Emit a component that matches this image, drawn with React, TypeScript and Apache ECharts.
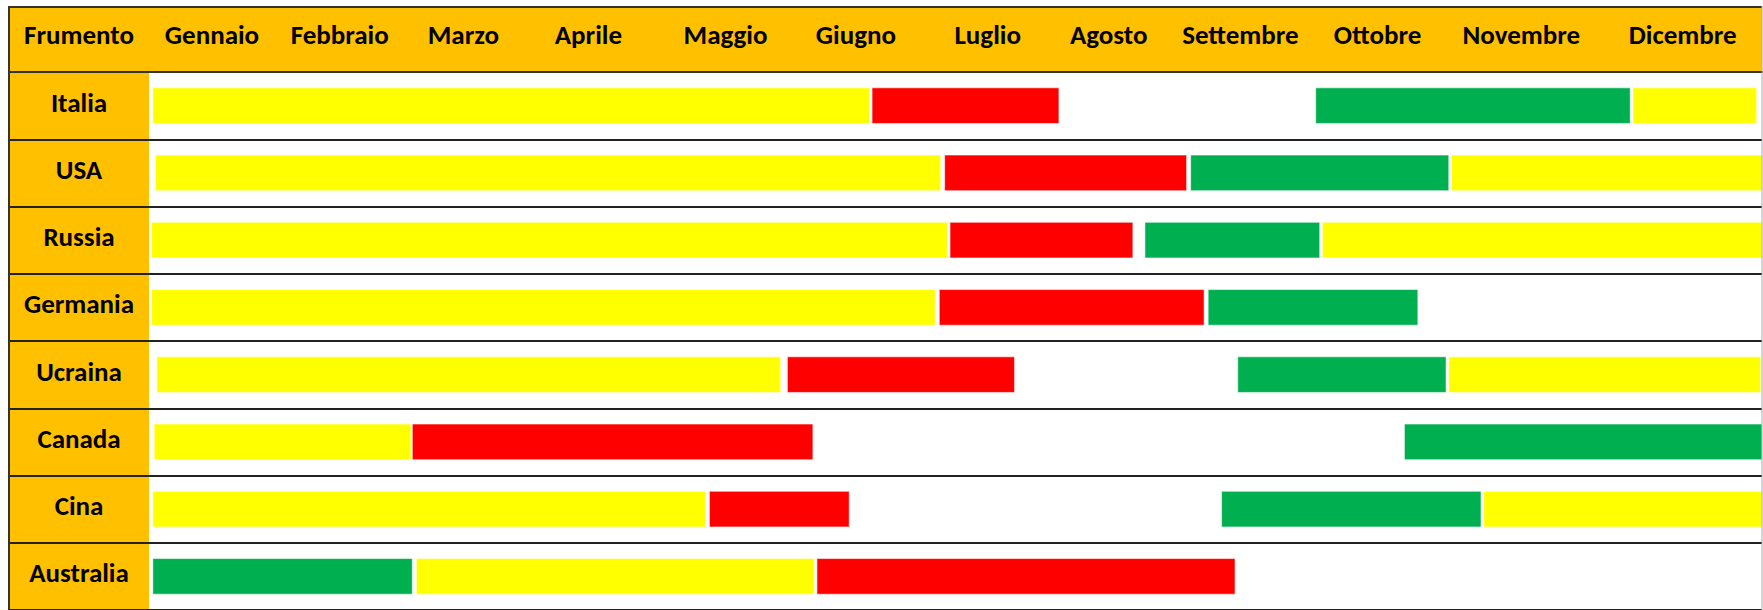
import React, { useEffect, useRef } from "react";
import * as echarts from "echarts";

// Rows (countries) and header labels
const countries = ["Italia", "USA", "Russia", "Germania", "Ucraina", "Canada", "Cina", "Australia"];
const cornerLabel = "Frumento";
const months = [
  "Gennaio", "Febbraio", "Marzo", "Aprile", "Maggio", "Giugno",
  "Luglio", "Agosto", "Settembre", "Ottobre", "Novembre", "Dicembre",
];
// where each month header sits, in month units from the start of January
const monthLabelPos = [0.47, 1.42, 2.34, 3.27, 4.29, 5.26, 6.24, 7.14, 8.12, 9.14, 10.21, 11.41];

// Phases: [country, start, end] in month units (0 = 1 January, 12 = 31 December)
const crescita: [string, number, number][] = [
  ["Italia", 0.03, 5.36], ["Italia", 11.04, 11.96],
  ["USA", 0.05, 5.89], ["USA", 9.69, 12],
  ["Russia", 0.02, 5.94], ["Russia", 8.73, 12],
  ["Germania", 0.02, 5.85],
  ["Ucraina", 0.06, 4.7], ["Ucraina", 9.67, 11.99],
  ["Canada", 0.04, 1.95],
  ["Cina", 0.03, 4.14], ["Cina", 9.93, 12],
  ["Australia", 1.99, 4.95],
];
const raccolto: [string, number, number][] = [
  ["Italia", 5.38, 6.77],
  ["USA", 5.92, 7.72],
  ["Russia", 5.96, 7.32],
  ["Germania", 5.88, 7.85],
  ["Ucraina", 4.75, 6.44],
  ["Canada", 1.96, 4.94],
  ["Cina", 4.17, 5.21],
  ["Australia", 4.97, 8.08],
];
const semina: [string, number, number][] = [
  ["Italia", 8.68, 11.02],
  ["USA", 7.75, 9.67],
  ["Russia", 7.41, 8.71],
  ["Germania", 7.88, 9.44],
  ["Ucraina", 8.1, 9.65],
  ["Canada", 9.34, 12],
  ["Cina", 7.98, 9.91],
  ["Australia", 0.03, 1.96],
];

const ORANGE = "#FFC000";
const FONT = "Carlito, 'Liberation Sans Narrow', 'DejaVu Sans Condensed', 'Open Sans', sans-serif";
const LEFT_COL_UNITS = 1.04;

function renderBar(params: any, api: any) {
  const row = api.value(0);
  const s = api.coord([api.value(1), row]);
  const e = api.coord([api.value(2), row]);
  const h = api.size([0, 1])[1] * 0.53;
  return {
    type: "rect",
    shape: { x: s[0], y: s[1] - h / 2, width: e[0] - s[0], height: h },
    style: api.style(),
  };
}

function phaseSeries(name: string, data: any[], color: string) {
  return {
    type: "custom",
    name,
    data,
    encode: { x: [1, 2], y: 0 },
    renderItem: renderBar,
    itemStyle: { color, borderColor: "rgba(255,255,255,0.55)", borderWidth: 1 },
  };
}

export default function App() {
  const ref = useRef<HTMLDivElement>(null);
  useEffect(() => {
    if (!ref.current) return;
    const chart = echarts.init(ref.current, null, { renderer: "svg" });
    chart.setOption({
      animation: false,
      backgroundColor: "#ffffff",
      grid: { left: 9, top: 72, width: 1753, height: 540 },
      xAxis: {
        type: "value",
        position: "top",
        min: -LEFT_COL_UNITS,
        max: 12,
        splitLine: { show: false },
        axisTick: { show: false },
        axisLine: { show: true, lineStyle: { color: "#333", width: 2 } },
        axisLabel: {
          customValues: monthLabelPos,
          formatter: (v: number) => {
            let best = 0;
            monthLabelPos.forEach((p, i) => {
              if (Math.abs(p - v) < Math.abs(monthLabelPos[best] - v)) best = i;
            });
            return months[best];
          },
          verticalAlign: "middle",
          margin: 38,
          color: "#000",
          fontWeight: "bold",
          fontSize: 27,
          fontFamily: FONT,
        },
      },
      yAxis: {
        type: "category",
        data: countries,
        inverse: true,
        axisLine: { show: false },
        axisTick: { show: false },
        splitLine: { show: true, interval: 0, lineStyle: { color: "#222", width: 2 } },
        axisLabel: {
          inside: true,
          margin: 70,
          align: "center",
          verticalAlign: "middle",
          formatter: (v: string) => `{c|${v}}`,
          rich: {
            c: {
              padding: [0, 0, 7, 0],
              color: "#000",
              fontWeight: "bold",
              fontSize: 27,
              fontFamily: FONT,
            },
          },
          color: "#000",
          fontWeight: "bold",
          fontSize: 27,
          fontFamily: FONT,
        },
      },
      graphic: [
        { type: "rect", z: -1, shape: { x: 9, y: 7, width: 1753, height: 65 }, style: { fill: ORANGE } },
        { type: "rect", z: -1, shape: { x: 9, y: 72, width: 140, height: 540 }, style: { fill: ORANGE } },
        { type: "line", z: 5, shape: { x1: 8, y1: 7, x2: 1762, y2: 7 }, style: { stroke: "#333", lineWidth: 2 } },
        { type: "line", z: 5, shape: { x1: 9, y1: 6, x2: 9, y2: 610 }, style: { stroke: "#333", lineWidth: 2 } },
        { type: "line", z: 5, shape: { x1: 1762, y1: 6, x2: 1762, y2: 610 }, style: { stroke: "#aaa", lineWidth: 1 } },
        {
          type: "text",
          z: 5,
          x: 79,
          y: 34,
          style: {
            text: cornerLabel,
            fill: "#000",
            font: `bold 27px ${FONT}`,
            align: "center",
            verticalAlign: "middle",
          },
        },
      ],
      series: [
        phaseSeries("Crescita", crescita, "#FFFF00"),
        phaseSeries("Raccolto", raccolto, "#FF0000"),
        phaseSeries("Semina", semina, "#00B050"),
      ],
    });
    return () => chart.dispose();
  }, []);
  return (
    <div
      ref={ref}
      style={{ position: "fixed", left: 0, top: 0, width: 1763, height: 610, background: "#fff" }}
    />
  );
}
